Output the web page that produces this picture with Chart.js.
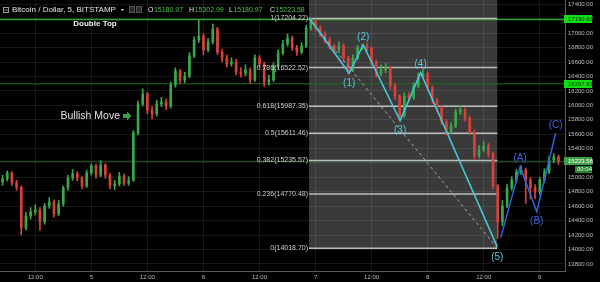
<!DOCTYPE html>
<html>
<head>
<meta charset="utf-8">
<script src="https://cdn.jsdelivr.net/npm/chart.js@4.4.0/dist/chart.umd.min.js"></script>
<style>
  html, body { margin: 0; padding: 0; background: #000; }
  canvas { display: block; }
</style>
</head>
<body>
<canvas id="btcChart" width="600" height="282"></canvas>
<script>
// hourly candles, hour 0 = day 4 00:00
const firstHour = 5;
const firstOpen = 14930;
const closes = [
  14978, 15062, 14923, 14867, 14299, 14465, 14521, 14549, 14382, 14604,
  14660, 14493, 14632, 14854, 14992, 15048, 14992, 14881, 15062, 15159,
  15034, 15172, 15034, 14881, 14909, 15020, 14923, 14964, 15616, 16018,
  16157, 15935, 15880, 16018, 16046, 15990, 16282, 16476, 16351, 16406,
  16684, 16905, 16961, 16767, 16878, 17058, 16739, 16656, 16573, 16600,
  16462, 16448, 16490, 16351, 16656, 16573, 16323, 16351, 16545, 16725,
  16850, 16933, 16795, 16739, 16822, 17072, 17169, 17072, 16989, 16905,
  16822, 16767, 16822, 16656, 16490, 16656, 16795, 16822, 16795, 16600,
  16434, 16490, 16517, 16268, 16129, 15852, 16129, 16101, 16268, 16406,
  16434, 16240, 16074, 15963, 15769, 15630, 15713, 15907, 15935, 15824,
  15630, 15297, 15380, 15436, 15325, 14881, 14382, 14604, 14854, 14964,
  15075, 15103, 14964, 14854, 14798, 14964, 15075, 15242, 15283, 15223.58
];
const highs = [
  15030, 15090, 15080, 14960, 14880, 14520, 14580, 14620, 14580, 14640,
  14720, 14690, 14680, 14880, 15030, 15110, 15080, 15010, 15100, 15190,
  15180, 15230, 15190, 15060, 14960, 15070, 15050, 15010, 15650, 16060,
  16230, 16180, 15990, 16070, 16110, 16090, 16320, 16520, 16500, 16460,
  16730, 16950, 17183, 16990, 16930, 17127, 17080, 16780, 16700, 16660,
  16640, 16520, 16560, 16520, 16700, 16690, 16600, 16420, 16590, 16770,
  16900, 16990, 16960, 16830, 16870, 17110, 17204.22, 17190, 17100, 17020,
  16940, 16850, 16880, 16850, 16680, 16700, 16830, 16850, 16860, 16810,
  16630, 16560, 16580, 16540, 16300, 16150, 16170, 16180, 16310, 16450,
  16503, 16460, 16270, 16100, 15990, 15800, 15760, 15950, 15990, 15960,
  15850, 15660, 15440, 15500, 15470, 15350, 14900, 14680, 14900, 15010,
  15110, 15159, 15130, 15000, 14900, 15000, 15120, 15290, 15330, 15310
];
const lows = [
  14890, 14950, 14890, 14820, 14202, 14270, 14420, 14480, 14271, 14350,
  14570, 14450, 14470, 14600, 14820, 14960, 14950, 14840, 14860, 15030,
  14990, 15010, 14990, 14840, 14830, 14880, 14890, 14890, 14940, 15590,
  15990, 15880, 15810, 15850, 15980, 15940, 15960, 16250, 16300, 16310,
  16380, 16660, 16870, 16700, 16740, 16850, 16700, 16600, 16530, 16540,
  16420, 16390, 16410, 16300, 16330, 16530, 16260, 16280, 16330, 16520,
  16700, 16820, 16760, 16690, 16710, 16800, 17040, 17030, 16950, 16860,
  16780, 16720, 16730, 16610, 16434, 16470, 16630, 16770, 16750, 16560,
  16390, 16410, 16450, 16220, 16080, 15782, 15830, 16050, 16080, 16240,
  16380, 16200, 16030, 15920, 15730, 15590, 15600, 15690, 15870, 15780,
  15590, 15250, 15270, 15350, 15280, 14840, 14150, 14330, 14580, 14820,
  14930, 15040, 14640, 14700, 14701, 14760, 14930, 15050, 15200, 15180
];

// x axis (hours) and price axis
const xMin = 4.45, xMax = 125.4;
const yMin = 13702, yMax = 17460;
const dayTicks = [12, 24, 36, 48, 60, 72, 84, 96, 108, 120];
const dayLabels = ['12:00', '5', '12:00', '6', '12:00', '7', '12:00', '8', '12:00', '9'];

// fib retracement
const fibFrom = 70.6, fibTo = 110.9;
const fibLevels = ['1', '0.786', '0.618', '0.5', '0.382', '0.236', '0'];
const fibPrices = [17204.22, 16522.52, 15987.35, 15611.46, 15235.57, 14770.48, 14018.70];

// elliott waves
const waveHours = [70.8, 79.2, 82.2, 90.1, 94.5, 110.9];
const wavePrices = [17200, 16444, 16836, 15787, 16452, 14036];
const waveLabels = ['', '(1)', '(2)', '(3)', '(4)', '(5)'];
const abcHours = [111.65, 115.8, 119.35, 123.4];
const abcPrices = [14165, 15149, 14525, 15612];
const abcLabels = ['', '(A)', '(B)', '(C)'];

const levelPrices = [17190.69, 16297.93];
const lastPrice = 15223.58;
const headerOHLC = [['O', '15180.97'], ['H', '15302.99'], ['L', '15180.97'], ['C', '15223.58']];

const FONT = '"Liberation Sans", Arial, sans-serif';
const upColor = '#3aa84a';
const downColor = '#d8423a';
const cyan = '#45cbe0';
const blue = '#2f62dc';

const opens = closes.map((c, i) => i === 0 ? firstOpen : closes[i - 1]);
const candleColors = closes.map((c, i) => c >= opens[i] ? upColor : downColor);

function waveText(ctx, xs, ys, hours, prices, labels, color) {
  ctx.fillStyle = color;
  ctx.font = '10px ' + FONT;
  ctx.textAlign = 'center';
  ctx.textBaseline = 'middle';
  for (let i = 1; i < labels.length; i++) {
    const prev = prices[i - 1];
    const next = i + 1 < prices.length ? prices[i + 1] : null;
    const isLow = prices[i] < prev && (next === null || prices[i] < next);
    const px = xs.getPixelForValue(hours[i]);
    const py = ys.getPixelForValue(prices[i]);
    ctx.fillText(labels[i], px, isLow ? py + 10 : py - 8);
  }
}

function priceTag(ctx, a, ys, price, bg, fg) {
  const py = Math.round(ys.getPixelForValue(price));
  ctx.fillStyle = bg;
  ctx.fillRect(a.right - 1, py - 4, 28, 8);
  ctx.fillStyle = fg;
  ctx.font = '6px ' + FONT;
  ctx.textAlign = 'left';
  ctx.textBaseline = 'middle';
  ctx.fillText(price.toFixed(2), a.right + 3, py + 0.5);
  return py;
}

const overlay = {
  id: 'overlay',
  beforeDraw(chart) {
    const { ctx, chartArea: a, scales: { x, y } } = chart;
    ctx.save();
    ctx.fillStyle = '#000';
    ctx.fillRect(0, 0, chart.width, chart.height);
    const x0 = x.getPixelForValue(fibFrom), x1 = x.getPixelForValue(fibTo);
    ctx.fillStyle = '#3a3a3a';
    ctx.fillRect(x0, a.top, x1 - x0, y.getPixelForValue(fibPrices[fibPrices.length - 1]) - a.top);
    ctx.restore();
  },
  beforeDatasetsDraw(chart) {
    const { ctx, chartArea: a, scales: { x, y } } = chart;
    ctx.save();
    // green marked levels + last price
    ctx.lineWidth = 1.5;
    ctx.strokeStyle = '#2f9e34';
    let py = y.getPixelForValue(levelPrices[0]);
    ctx.beginPath(); ctx.moveTo(a.left, py); ctx.lineTo(a.right, py); ctx.stroke();
    ctx.lineWidth = 1;
    ctx.strokeStyle = '#1f6e24';
    py = y.getPixelForValue(levelPrices[1]);
    ctx.beginPath(); ctx.moveTo(a.left, py); ctx.lineTo(a.right, py); ctx.stroke();
    ctx.strokeStyle = '#2a5a2c';
    py = y.getPixelForValue(lastPrice);
    ctx.beginPath(); ctx.moveTo(a.left, py); ctx.lineTo(a.right, py); ctx.stroke();
    // fib lines
    const x0 = x.getPixelForValue(fibFrom), x1 = x.getPixelForValue(fibTo);
    ctx.strokeStyle = '#bdbdbd';
    ctx.lineWidth = 1.5;
    fibPrices.forEach(p => {
      const fy = y.getPixelForValue(p);
      ctx.beginPath(); ctx.moveTo(x0, fy); ctx.lineTo(x1, fy); ctx.stroke();
    });
    ctx.restore();
  },
  afterDatasetsDraw(chart) {
    const { ctx, scales: { x, y } } = chart;
    ctx.save();
    // fib labels
    const x0 = x.getPixelForValue(fibFrom);
    ctx.font = '7px ' + FONT;
    ctx.fillStyle = '#cfcfcf';
    ctx.textAlign = 'right';
    ctx.textBaseline = 'middle';
    fibLevels.forEach((lv, i) => {
      ctx.fillText(lv + '(' + fibPrices[i].toFixed(2) + ')', x0 - 1, y.getPixelForValue(fibPrices[i]));
    });
    waveText(ctx, x, y, waveHours, wavePrices, waveLabels, '#56c9dc');
    waveText(ctx, x, y, abcHours, abcPrices, abcLabels, '#3568e0');

    // notes
    ctx.fillStyle = '#f0f0f0';
    ctx.font = 'bold 8px ' + FONT;
    ctx.textAlign = 'center';
    ctx.fillText('Double Top', 95, 24);
    ctx.font = '10.5px ' + FONT;
    ctx.fillStyle = '#e2e2e2';
    ctx.textAlign = 'right';
    ctx.fillText('Bullish Move', 120, 116);
    ctx.fillStyle = '#3a9f48';
    ctx.beginPath();
    ctx.moveTo(123, 114); ctx.lineTo(127, 114); ctx.lineTo(127, 111.5); ctx.lineTo(131.5, 116);
    ctx.lineTo(127, 120.5); ctx.lineTo(127, 118); ctx.lineTo(123, 118); ctx.closePath();
    ctx.fill();
    ctx.restore();
  },
  afterDraw(chart) {
    const { ctx, chartArea: a, scales: { y } } = chart;
    ctx.save();
    priceTag(ctx, a, y, levelPrices[0], '#12e012', '#0a2a0a');
    priceTag(ctx, a, y, levelPrices[1], '#12e012', '#0a2a0a');
    const py = priceTag(ctx, a, y, lastPrice, '#3f9f45', '#ffffff');
    ctx.fillStyle = '#2b7f31';
    ctx.fillRect(a.right + 10, py + 5, 17, 7);
    ctx.fillStyle = '#e8ffe8';
    ctx.font = '6px ' + FONT;
    ctx.textAlign = 'left';
    ctx.fillText('00:04', a.right + 12, py + 8.5);

    // header line
    ctx.textBaseline = 'middle';
    ctx.strokeStyle = '#9a9a9a';
    ctx.lineWidth = 1;
    ctx.strokeRect(3.5, 7.5, 5, 5);
    ctx.beginPath(); ctx.moveTo(4.5, 10); ctx.lineTo(7.5, 10); ctx.stroke();
    ctx.fillStyle = '#e4e4e4';
    ctx.font = '8px ' + FONT;
    ctx.textAlign = 'left';
    ctx.fillText('Bitcoin / Dollar, 5, BITSTAMP', 12, 10);
    ctx.beginPath(); ctx.moveTo(121, 9); ctx.lineTo(124, 9); ctx.lineTo(122.5, 11); ctx.closePath(); ctx.fill();
    ctx.fillStyle = '#2a2a2a';
    ctx.fillRect(129, 6, 6, 7); ctx.fillRect(136, 6, 6, 7);
    ctx.strokeStyle = '#555';
    ctx.strokeRect(129.5, 6.5, 5, 6); ctx.strokeRect(136.5, 6.5, 5, 6);
    ctx.font = '7px ' + FONT;
    const starts = [148, 189, 229, 270];
    headerOHLC.forEach(([k, v], i) => {
      ctx.fillStyle = '#e8e8e8';
      ctx.fillText(k, starts[i], 10);
      ctx.fillStyle = '#4fc14f';
      ctx.fillText(v, starts[i] + ctx.measureText(k).width + 0.5, 10);
    });
    ctx.restore();
  }
};

Chart.defaults.font.family = FONT;

new Chart(document.getElementById('btcChart'), {
  type: 'bar',
  data: {
    datasets: [
      {
        type: 'bar', label: 'wick',
        data: closes.map((c, i) => ({ x: firstHour + i, y: [lows[i], highs[i]] })),
        backgroundColor: candleColors, barThickness: 1, grouped: false, order: 3
      },
      {
        type: 'bar', label: 'body',
        data: closes.map((c, i) => ({ x: firstHour + i, y: [opens[i], c] })),
        backgroundColor: candleColors, barThickness: 2, minBarLength: 1, grouped: false, order: 2
      },
      {
        type: 'line', label: 'trend',
        data: [{ x: fibFrom, y: fibPrices[0] }, { x: fibTo, y: fibPrices[fibPrices.length - 1] }],
        borderColor: '#a8a8a8', borderWidth: 1, borderDash: [3, 3], pointRadius: 0, order: 1
      },
      {
        type: 'line', label: 'impulse',
        data: waveHours.map((h, i) => ({ x: h, y: wavePrices[i] })),
        borderColor: cyan, borderWidth: 1.5, pointRadius: 0, order: 0
      },
      {
        type: 'line', label: 'correction',
        data: abcHours.map((h, i) => ({ x: h, y: abcPrices[i] })),
        borderColor: blue, borderWidth: 1.5, pointRadius: 0, order: 0
      }
    ]
  },
  options: {
    responsive: false,
    animation: false,
    devicePixelRatio: 1,
    layout: { padding: 0 },
    plugins: { legend: { display: false }, tooltip: { enabled: false } },
    scales: {
      x: {
        type: 'linear', min: xMin, max: xMax, offset: false,
        grid: { color: 'rgba(255,255,255,0.09)', offset: false, drawTicks: false },
        border: { display: true, color: '#5a5a5a' },
        ticks: {
          stepSize: 12, includeBounds: false, autoSkip: false, maxRotation: 0,
          padding: 3, color: '#bdbdbd', font: { size: 6 },
          callback: v => dayLabels[dayTicks.indexOf(v)] ?? ''
        },
        afterFit: s => { s.height = 11; s.paddingLeft = 0; s.paddingRight = 0; }
      },
      y: {
        type: 'linear', position: 'right', min: yMin, max: yMax,
        grid: { color: 'rgba(255,255,255,0.09)', drawTicks: false },
        border: { display: true, color: '#5a5a5a' },
        ticks: {
          stepSize: 200, includeBounds: false, autoSkip: false,
          padding: 3, color: '#bdbdbd', font: { size: 6 },
          callback: v => v.toFixed(2)
        },
        afterFit: s => { s.width = 35; s.paddingTop = 0; s.paddingBottom = 0; }
      }
    }
  },
  plugins: [overlay]
});
</script>
</body>
</html>
